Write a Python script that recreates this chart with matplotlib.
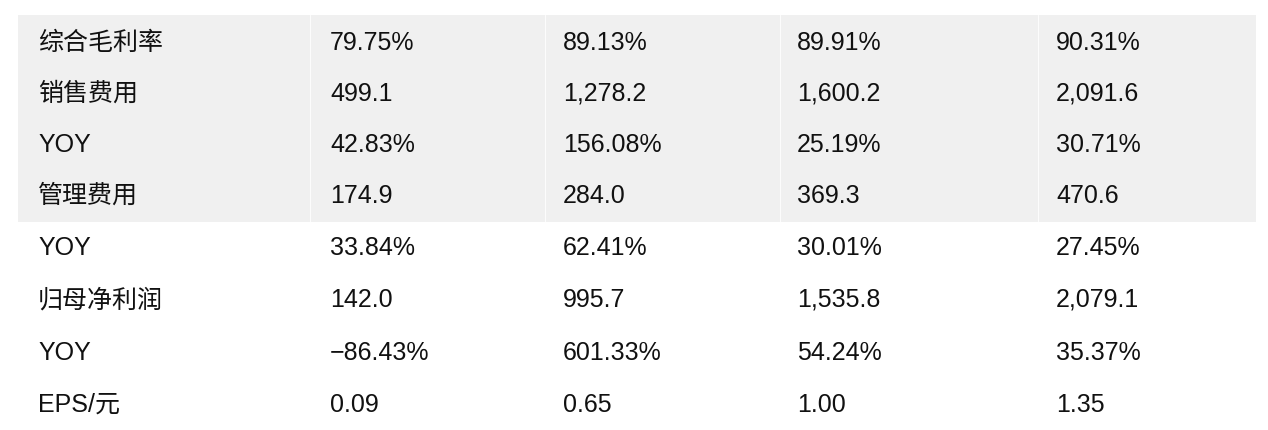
import matplotlib.pyplot as plt
from matplotlib.patches import Rectangle

plt.rcParams['font.family'] = ['Liberation Sans', 'Noto Sans CJK SC', 'DejaVu Sans']

# table data
row_labels = ['综合毛利率', '销售费用', 'YOY', '管理费用', 'YOY', '归母净利润', 'YOY', 'EPS/元']
col1 = ['79.75%', '499.1', '42.83%', '174.9', '33.84%', '142.0', '−86.43%', '0.09']
col2 = ['89.13%', '1,278.2', '156.08%', '284.0', '62.41%', '995.7', '601.33%', '0.65']
col3 = ['89.91%', '1,600.2', '25.19%', '369.3', '30.01%', '1,535.8', '54.24%', '1.00']
col4 = ['90.31%', '2,091.6', '30.71%', '470.6', '27.45%', '2,079.1', '35.37%', '1.35']

fig = plt.figure(figsize=(12.68, 4.3), dpi=100)
ax = fig.add_axes([0, 0, 1, 1])
ax.set_xlim(0, 1268)
ax.set_ylim(430, 0)
ax.axis('off')

# gray block behind the first rows
ax.add_patch(Rectangle((18, 15), 1238, 207, color='#f0f0f0', lw=0))
for x in [310, 545, 780, 1038]:
    ax.plot([x, x], [15, 222], color='white', lw=0.6)

col_x = [38, 330, 563, 797, 1056]
row_y = [43, 94, 145, 196, 248, 300, 353, 405]
columns = [row_labels, col1, col2, col3, col4]
for cx, vals in zip(col_x, columns):
    for cy, v in zip(row_y, vals):
        ax.text(cx, cy, v, fontsize=18, va='center', ha='left', color='#111111')

fig.savefig('out.png', dpi=100)
